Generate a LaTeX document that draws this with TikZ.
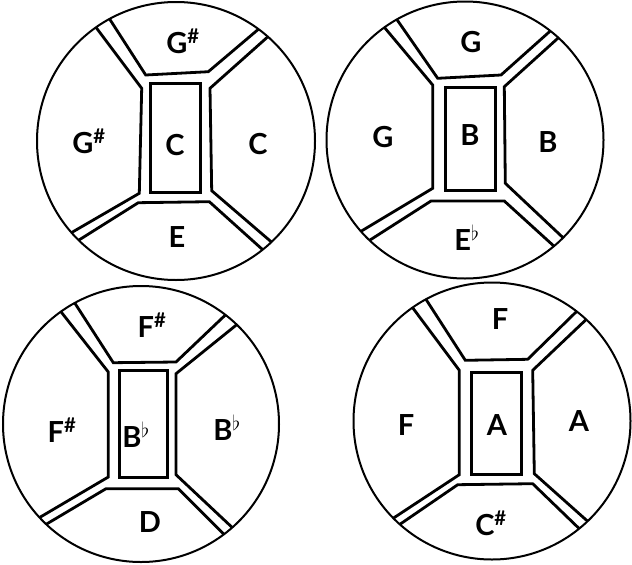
\documentclass[tikz,border=0pt]{standalone}
\usepackage{fontspec}
\setmainfont{Lato}
\newcommand{\sharpsup}{\textsuperscript{\#}}
\newcommand{\flatsup}{\ensuremath{^\flat}}
\begin{document}
\begin{tikzpicture}[x=1pt,y=-1pt,line join=miter,
  rim/.style={line width=2pt},
  wall/.style={line width=2.8pt,shorten <=-12pt,shorten >=-12pt},
  box/.style={line width=3pt},
  note/.style={anchor=base,inner sep=0pt,font=\fontsize{29}{30}\selectfont\bfseries}]
\useasboundingbox (0,0) rectangle (632,565);
% pan C
\begin{scope}[shift={(176,141)}]
  \begin{scope}
    \clip (0,0) circle (139);
    \draw[wall] (-65.3,-120.3)--(-30.3,-66)--(32.3,-69.3)--(80.7,-110.3);
    \draw[wall] (-79.3,-112.7)--(-34.3,-52.7)--(-36.7,52.3)--(-100,89);
    \draw[wall] (89,-101.7)--(34,-52.7)--(35.7,49.7)--(92.3,98.3);
    \draw[wall] (-94.3,97.3)--(-37.7,61.7)--(33.3,60.7)--(84,106.3);
  \end{scope}
  \draw[box] (-25.3,-57.7) rectangle (24.3,51.7);
  \draw[rim] (0,0) circle (139);
  \node[note] (c-top) at (7,-88) {G\sharpsup};
  \node[note] (c-left) at (-87,12) {G\sharpsup};
  \node[note] (c-mid) at (-1,14) {C};
  \node[note] (c-right) at (82,13) {C};
  \node[note] (c-bot) at (1,106) {E};
\end{scope}
% pan B
\begin{scope}[shift={(465,140)}]
  \begin{scope}
    \clip (0,0) circle (138.5);
    \draw[wall] (-67.3,-119.3)--(-27.3,-61.7)--(36,-65)--(82.7,-106.7);
    \draw[wall] (-79,-110.7)--(-32.3,-55)--(-32.3,48.3)--(-100.7,89.3);
    \draw[wall] (91.7,-100.7)--(39.3,-53.3)--(40.3,43.3)--(97,96.7);
    \draw[wall] (-92.3,98.3)--(-34,61)--(39.3,61)--(87.7,105);
  \end{scope}
  \draw[box] (-19.7,-52.3) rectangle (30,50.7);
  \draw[rim] (0,0) circle (138.5);
  \node[note] (b-top) at (6,-88) {G};
  \node[note] (b-left) at (-82,7) {G};
  \node[note] (b-mid) at (5,5) {B};
  \node[note] (b-right) at (83,12) {B};
  \node[note] (b-bot) at (2,110) {E\flatsup};
\end{scope}
% pan B flat
\begin{scope}[shift={(141,424)}]
  \begin{scope}
    \clip (0,0) circle (138);
    \draw[wall] (-64.3,-118)--(-27.7,-61.3)--(35,-62)--(83,-107.7);
    \draw[wall] (-77.7,-109.3)--(-32.7,-52)--(-32.7,53)--(-97.7,91.3);
    \draw[wall] (95.7,-99.3)--(35,-50.3)--(35,50.7)--(90.7,103);
    \draw[wall] (-91,98)--(-35,64.7)--(37.3,64.7)--(80.7,108);
  \end{scope}
  \draw[box] (-21.7,-53.7) rectangle (26.3,53);
  \draw[rim] (0,0) circle (138);
  \node[note] (bb-top) at (11,-87) {F\sharpsup};
  \node[note] (bb-left) at (-79,18) {F\sharpsup};
  \node[note] (bb-mid) at (-5,23) {B\flatsup};
  \node[note] (bb-right) at (86,16) {B\flatsup};
  \node[note] (bb-bot) at (9,108) {D};
\end{scope}
% pan A
\begin{scope}[shift={(492,421)}]
  \begin{scope}
    \clip (0,0) circle (138.5);
    \draw[wall] (-64.3,-119)--(-26.7,-60.7)--(35.7,-61.7)--(82.3,-107.3);
    \draw[wall] (-76.7,-109.7)--(-32.7,-50.7)--(-32.7,53.7)--(-94.3,94.3);
    \draw[wall] (92.3,-99.7)--(40.7,-50.7)--(42.3,52.7)--(95.7,100.3);
    \draw[wall] (-87.7,100.3)--(-34.3,63.7)--(40.7,62.7)--(87.3,107.7);
  \end{scope}
  \draw[box] (-21,-49) rectangle (29,53.7);
  \draw[rim] (0,0) circle (138.5);
  \node[note] (a-top) at (8,-92) {F};
  \node[note] (a-left) at (-86,14) {F};
  \node[note] (a-mid) at (5,14) {A};
  \node[note] (a-right) at (87,10) {A};
  \node[note] (a-bot) at (-1,114) {C\sharpsup};
\end{scope}
\end{tikzpicture}
\end{document}
